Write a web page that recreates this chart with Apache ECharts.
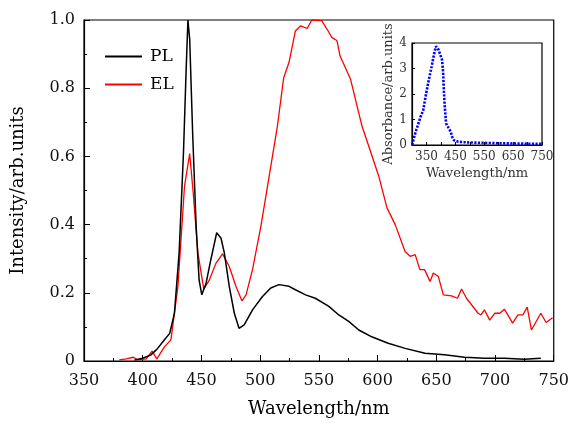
<!DOCTYPE html>
<html>
<head>
<meta charset="utf-8">
<script src="https://cdn.jsdelivr.net/npm/echarts@6/dist/echarts.min.js"></script>
<style>html,body{margin:0;padding:0;background:#fff;}#c{width:572px;height:423px;}</style>
</head>
<body>
<div id="c"></div>
<script>
// PL (black) spectrum
var plWl = [393, 400, 407, 412, 418, 423, 427, 431, 434.7, 437, 438.5, 440, 442.6, 445.5, 448, 450.3, 454, 458, 463, 466.7, 469.5, 473.7, 478, 482, 486.4, 493.5, 502, 509, 516, 524.6, 530, 538.7, 547, 558.5, 567, 575.4, 584, 595, 609, 623.5, 640.4, 657, 674, 691, 708, 725, 739];
var plVal = [0.003, 0.008, 0.018, 0.034, 0.06, 0.081, 0.14, 0.317, 0.61, 0.856, 1.0, 0.944, 0.66, 0.395, 0.238, 0.194, 0.229, 0.297, 0.376, 0.36, 0.317, 0.219, 0.14, 0.096, 0.106, 0.15, 0.189, 0.214, 0.224, 0.219, 0.209, 0.194, 0.184, 0.16, 0.135, 0.116, 0.091, 0.071, 0.052, 0.037, 0.023, 0.018, 0.011, 0.008, 0.008, 0.005, 0.008];
// EL (red) spectrum
var elWl = [380, 386, 392, 396, 403, 408, 412, 418.6, 424, 430, 435.6, 440, 443, 447, 452, 456.8, 462.4, 468, 473.7, 479.4, 484.5, 488, 493.5, 500.6, 507.6, 514.7, 520, 524.6, 530, 534.5, 540, 544, 552.5, 558.5, 561, 565.5, 568, 577, 586.7, 592, 601, 608, 615, 623.4, 627.7, 632, 636, 640, 644.7, 647.5, 651.7, 656, 663, 668, 671.5, 675.7, 685.6, 688, 691, 695.5, 699.7, 704, 708, 715, 719.5, 723.7, 727.4, 731, 739, 743.5, 749];
var elVal = [0.003, 0.006, 0.011, 0.003, 0.006, 0.029, 0.006, 0.042, 0.062, 0.219, 0.513, 0.608, 0.493, 0.317, 0.211, 0.238, 0.287, 0.314, 0.277, 0.219, 0.176, 0.194, 0.268, 0.395, 0.54, 0.689, 0.83, 0.876, 0.968, 0.983, 0.975, 1.0, 0.998, 0.964, 0.949, 0.939, 0.895, 0.826, 0.689, 0.635, 0.542, 0.449, 0.4, 0.321, 0.307, 0.312, 0.268, 0.268, 0.233, 0.258, 0.248, 0.194, 0.191, 0.184, 0.211, 0.184, 0.14, 0.135, 0.15, 0.12, 0.14, 0.14, 0.152, 0.111, 0.135, 0.135, 0.158, 0.091, 0.14, 0.113, 0.127];
// Inset absorbance (blue)
var absWl = [301, 305, 309.5, 315, 321, 329.5, 339, 347, 357, 368, 377, 383, 388, 392, 398, 404, 407.5, 410, 413, 418, 424, 434, 439, 445, 450, 460, 480, 500, 530, 560, 600, 650, 700, 750];
var absVal = [0, 0.2, 0.39, 0.6, 0.8, 1.1, 1.37, 1.9, 2.49, 3.08, 3.6, 3.87, 3.82, 3.73, 3.67, 3.34, 2.88, 2.22, 1.57, 0.85, 0.72, 0.52, 0.32, 0.19, 0.15, 0.13, 0.11, 0.1, 0.09, 0.08, 0.07, 0.06, 0.05, 0.05];

var FONT = 'DejaVu Serif';
function pairs(a, b) { return a.map(function (v, i) { return [v, b[i]]; }); }

var chart = echarts.init(document.getElementById('c'), null, { renderer: 'canvas' });
chart.setOption({
  animation: false,
  backgroundColor: '#fff',
  grid: [
    { left: 84, right: 16, top: 20, bottom: 61, show: true, borderColor: '#000', borderWidth: 1.2, containLabel: false },
    { left: 412, top: 43, width: 130, height: 102, show: true, borderColor: '#000', borderWidth: 1.2, backgroundColor: '#fff' }
  ],
  legend: {
    left: 100, top: 43, orient: 'vertical', itemWidth: 37, itemHeight: 2, itemGap: 11,
    textStyle: { fontFamily: FONT, fontSize: 17, color: '#000', padding: [0, 0, 0, 3] },
    data: [
      { name: 'PL', icon: 'rect', itemStyle: { color: '#000' } },
      { name: 'EL', icon: 'rect', itemStyle: { color: '#f00' } }
    ]
  },
  xAxis: [
    {
      gridIndex: 0, type: 'value', min: 350, max: 750, interval: 50,
      name: 'Wavelength/nm', nameLocation: 'middle', nameGap: 39,
      nameTextStyle: { fontFamily: FONT, fontSize: 18, color: '#000' },
      axisLine: { lineStyle: { color: '#000', width: 1.2 } },
      axisTick: { inside: true, length: 6, lineStyle: { color: '#000' } },
      minorTick: { show: true, splitNumber: 2, length: 3, lineStyle: { color: '#000' } },
      axisLabel: { fontFamily: FONT, fontSize: 16, color: '#111', margin: 12 },
      splitLine: { show: false }
    },
    {
      gridIndex: 1, type: 'value', min: 300, max: 750, interval: 50,
      name: 'Wavelength/nm', nameLocation: 'middle', nameGap: 22,
      nameTextStyle: { fontFamily: FONT, fontSize: 13, color: '#333' },
      axisLine: { lineStyle: { color: '#000', width: 1.2 } },
      axisTick: { inside: true, length: 3, lineStyle: { color: '#000' } },
      axisLabel: { fontFamily: FONT, fontSize: 12, color: '#333', margin: 6,
        formatter: function (v) { return ((v - 350) % 100 === 0) ? String(v) : ''; } },
      splitLine: { show: false }
    }
  ],
  yAxis: [
    {
      gridIndex: 0, type: 'value', min: 0, max: 1, interval: 0.2,
      name: 'Intensity/arb.units', nameLocation: 'middle', nameGap: 57,
      nameTextStyle: { fontFamily: FONT, fontSize: 18, color: '#000' },
      axisLine: { lineStyle: { color: '#000', width: 1.2 } },
      axisTick: { inside: true, length: 6, lineStyle: { color: '#000' } },
      minorTick: { show: true, splitNumber: 2, length: 3, lineStyle: { color: '#000' } },
      axisLabel: { fontFamily: FONT, fontSize: 16, color: '#111', margin: 9,
        formatter: function (v) { return v === 0 ? '0' : v.toFixed(1); } },
      splitLine: { show: false }
    },
    {
      gridIndex: 1, type: 'value', min: 0, max: 4, interval: 1,
      name: 'Absorbance/arb.units', nameLocation: 'middle', nameGap: 17,
      nameTextStyle: { fontFamily: FONT, fontSize: 13, color: '#333' },
      axisLine: { lineStyle: { color: '#000', width: 1.2 } },
      axisTick: { inside: true, length: 3, lineStyle: { color: '#000' } },
      axisLabel: { fontFamily: FONT, fontSize: 12, color: '#333', margin: 5 },
      splitLine: { show: false }
    }
  ],
  series: [
    {
      name: 'PL', type: 'line', xAxisIndex: 0, yAxisIndex: 0, symbol: 'none',
      lineStyle: { color: '#000', width: 1.5 }, itemStyle: { color: '#000' },
      data: pairs(plWl, plVal), z: 3
    },
    {
      name: 'EL', type: 'line', xAxisIndex: 0, yAxisIndex: 0, symbol: 'none',
      lineStyle: { color: '#f00', width: 1.3 }, itemStyle: { color: '#f00' },
      data: pairs(elWl, elVal), z: 2
    },
    {
      name: 'Absorbance', type: 'line', xAxisIndex: 1, yAxisIndex: 1, symbol: 'none',
      lineStyle: { color: '#0000ff', width: 2.6, type: [2.2, 1.4] },
      data: pairs(absWl, absVal), z: 4
    }
  ]
});
</script>
</body>
</html>
